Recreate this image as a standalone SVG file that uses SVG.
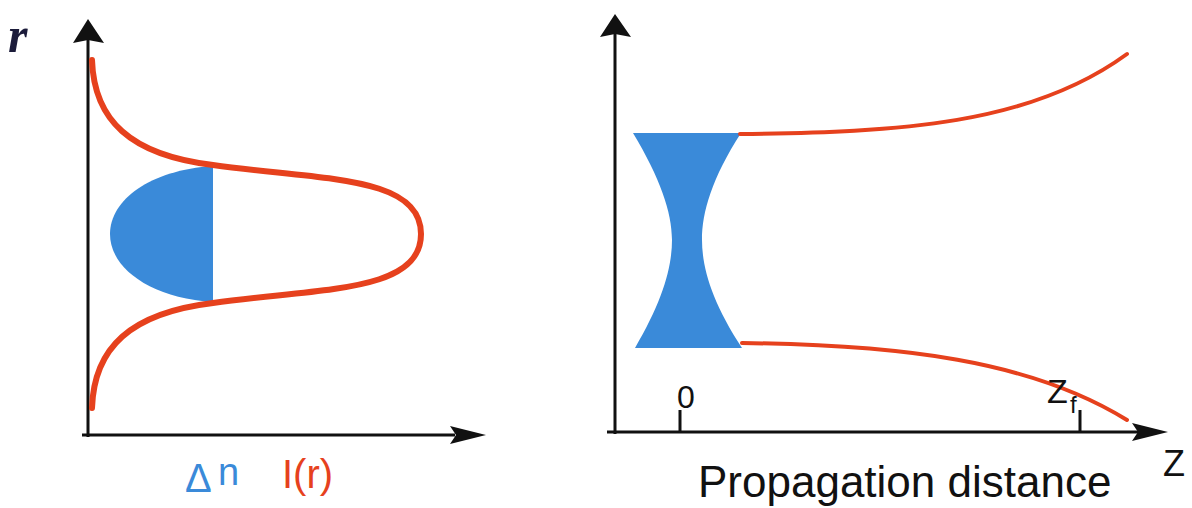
<svg xmlns="http://www.w3.org/2000/svg" width="1192" height="508" viewBox="0 0 1192 508">
<style>
.axis{stroke:#111;stroke-width:3;fill:none}
.head{fill:#111}
.red{stroke:#e6411d;fill:none;stroke-linecap:round}
.blue{fill:#3a8ad9}
.lbl{font-family:"Liberation Sans",Arial,sans-serif}
</style>
<rect width="1192" height="508" fill="#fff"/>
<g id="left-plot">
  <g id="left-axes">
    <line class="axis" x1="88" y1="437" x2="88" y2="40"/>
    <polygon class="head" points="88,19 104,43 88,40 73,43"/>
    <line class="axis" x1="82" y1="435" x2="455" y2="435"/>
    <polygon class="head" points="486,435 450,426 456,435 450,444"/>
  </g>
  <g id="delta-n-profile">
    <path class="blue" d="M213,166 C150,170 110,200 110,234 C110,268 150,298 213,302 Z"/>
  </g>
  <g id="intensity-profile">
    <path class="red" stroke-width="6" d="M92,60 C94,120 130,155 213,165 C320,180 421,175 421,234 C421,293 320,288 213,303 C130,313 94,348 92,408"/>
  </g>
  <text x="8" y="52" font-family="'Liberation Serif',serif" font-style="italic" font-weight="bold" font-size="50" fill="#1b1b3a">r</text>
  <text class="lbl" x="185" y="492" font-size="40" fill="#3a8ad9">Δ</text>
  <text class="lbl" x="218" y="485" font-size="38" fill="#3a8ad9">n</text>
  <text class="lbl" x="282" y="488" font-size="40" fill="#e6411d">I(r)</text>
</g>
<g id="right-plot">
  <g id="right-axes">
    <line class="axis" x1="615" y1="434" x2="615" y2="34"/>
    <polygon class="head" points="615,14 631,37 615,34 600,37"/>
    <line class="axis" x1="607" y1="432" x2="1138" y2="432"/>
    <polygon class="head" points="1168,432 1132,423 1138,432 1132,441"/>
    <line class="axis" stroke-width="2.5" x1="680" y1="410" x2="680" y2="432"/>
    <line class="axis" stroke-width="2.5" x1="1080" y1="410" x2="1080" y2="432"/>
  </g>
  <g id="hourglass">
    <path class="blue" d="M633,133 L741,133 C712,178 702,212 702,240 C702,268 712,302 742,348 L635,348 C662,302 672,268 672,240 C672,212 660,178 633,133 Z"/>
  </g>
  <g id="beam">
    <path class="red" stroke-width="4" d="M740,134 C900,132 1030,125 1127,54"/>
    <path class="red" stroke-width="4" d="M742,343 C900,345 1030,360 1127,420"/>
  </g>
  <text class="lbl" x="677" y="408" font-size="32" fill="#111">0</text>
  <text class="lbl" x="1047" y="403" font-size="34" fill="#111">Z</text>
  <text class="lbl" x="1070" y="413" font-size="24" fill="#111">f</text>
  <text class="lbl" x="1163" y="476" font-size="36" fill="#111">Z</text>
  <text class="lbl" x="698" y="497" font-size="44" fill="#111">Propagation distance</text>
</g>
</svg>
